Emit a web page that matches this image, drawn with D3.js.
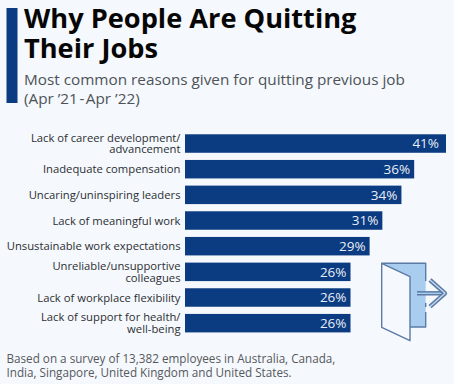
<!DOCTYPE html>
<html>
<head>
<meta charset="utf-8">
<script src="https://d3js.org/d3.v7.min.js"></script>
<style>
  html, body { margin: 0; padding: 0; background: #f5f8fc; }
  svg { display: block; font-family: "Open Sans", sans-serif; }
</style>
</head>
<body>
<div id="chart"></div>
<script>
var labels = [
  ["Lack of career development/", "advancement"],
  ["Inadequate compensation"],
  ["Uncaring/uninspiring leaders"],
  ["Lack of meaningful work"],
  ["Unsustainable work expectations"],
  ["Unreliable/unsupportive", "colleagues"],
  ["Lack of workplace flexibility"],
  ["Lack of support for health/", "well-being"]
];
var values = [41, 36, 34, 31, 29, 26, 26, 26];
var titleLines = ["Why People Are Quitting", "Their Jobs"];
var subtitleLines = ["Most common reasons given for quitting previous job", "(Apr \u201921\u200a-\u200aApr \u201922)"];
var noteLines = ["Based on a survey of 13,382 employees in Australia, Canada,", "India, Singapore, United Kingdom and United States."];

var width = 454, height = 384;
var navy = "#0b3b80";

var svg = d3.select("#chart").append("svg")
    .attr("width", width)
    .attr("height", height);

// header
svg.append("rect")
    .attr("x", 6.5).attr("y", 8)
    .attr("width", 11).attr("height", 95)
    .attr("fill", navy);

svg.selectAll(".title").data(titleLines).enter().append("text")
    .attr("class", "title")
    .attr("x", 24)
    .attr("y", function(d, i) { return 27.7 + i * 30; })
    .attr("font-size", 27.2)
    .attr("font-weight", 700)
    .attr("fill", "#060606")
    .text(function(d) { return d; });

svg.selectAll(".subtitle").data(subtitleLines).enter().append("text")
    .attr("class", "subtitle")
    .attr("x", 24)
    .attr("y", function(d, i) { return 85 + i * 18.5; })
    .attr("font-size", 15.3)
    .attr("fill", "#4d5358")
    .text(function(d) { return d; });

// bars
var x = d3.scaleLinear()
    .domain([0, 41])
    .range([185, 446]);

var y = d3.scaleBand()
    .domain(d3.range(values.length))
    .range([134.3 - 3.6, 332.4 + 3.6])
    .paddingInner(0.28)
    .paddingOuter(0.14);

var rows = svg.selectAll(".row").data(values).enter().append("g")
    .attr("class", "row");

rows.append("rect")
    .attr("x", x(0))
    .attr("y", function(d, i) { return y(i); })
    .attr("width", function(d) { return x(d) - x(0); })
    .attr("height", y.bandwidth())
    .attr("fill", navy);

rows.append("text")
    .attr("x", function(d, i) { return x(d) - (i == 0 ? 7 : 4); })
    .attr("y", function(d, i) { return y(i) + y.bandwidth() / 2; })
    .attr("dy", "0.36em")
    .attr("text-anchor", "end")
    .attr("font-size", 13.5)
    .attr("fill", "#e8eef6")
    .text(function(d) { return d + "%"; });

rows.append("text")
    .attr("text-anchor", "end")
    .attr("font-size", 11.25)
    .attr("fill", "#2b2f33")
    .each(function(d, i) {
        var lines = labels[i];
        var mid = y(i) + y.bandwidth() / 2;
        d3.select(this).selectAll("tspan").data(lines).enter().append("tspan")
            .attr("x", 180.5)
            .attr("y", function(l, j) { return mid + 4 + (j - (lines.length - 1) / 2) * 11.5; })
            .text(function(l) { return l; });
    });

// door icon
var icon = svg.append("g")
    .attr("fill", "none")
    .attr("stroke", "#5b7ba6")
    .attr("stroke-width", 1.4)
    .attr("stroke-linejoin", "round");

icon.append("path")
    .attr("d", "M381.7,263.3H425.7V327H410V276.7Z")
    .attr("fill", "#a9cdee")
    .attr("stroke", "none");
icon.append("path")
    .attr("d", "M381.7,263.3H425.7V281M425.7,303V307M425.7,312V327H410");
icon.append("path")
    .attr("d", "M381.7,263.3L410,276.7V340.7L381.7,327.3Z")
    .attr("fill", "#f5f8fc");
icon.append("path")
    .attr("d", "M417,293.3H444.5")
    .attr("stroke-width", 4.4);
icon.append("path")
    .attr("d", "M417,293.3H444.5")
    .attr("stroke", "#a9cdee")
    .attr("stroke-width", 1.4);
icon.append("path")
    .attr("d", "M430,280L445,293.3L430,306.7")
    .attr("stroke-width", 4.4);
icon.append("path")
    .attr("d", "M430,280L445,293.3L430,306.7")
    .attr("stroke", "#c5d8ee")
    .attr("stroke-width", 1.4);

// note
svg.selectAll(".note").data(noteLines).enter().append("text")
    .attr("class", "note")
    .attr("x", 6.5)
    .attr("y", function(d, i) { return 363.3 + i * 14; })
    .attr("font-size", 11.7)
    .attr("fill", "#55595d")
    .text(function(d) { return d; });
</script>
</body>
</html>
